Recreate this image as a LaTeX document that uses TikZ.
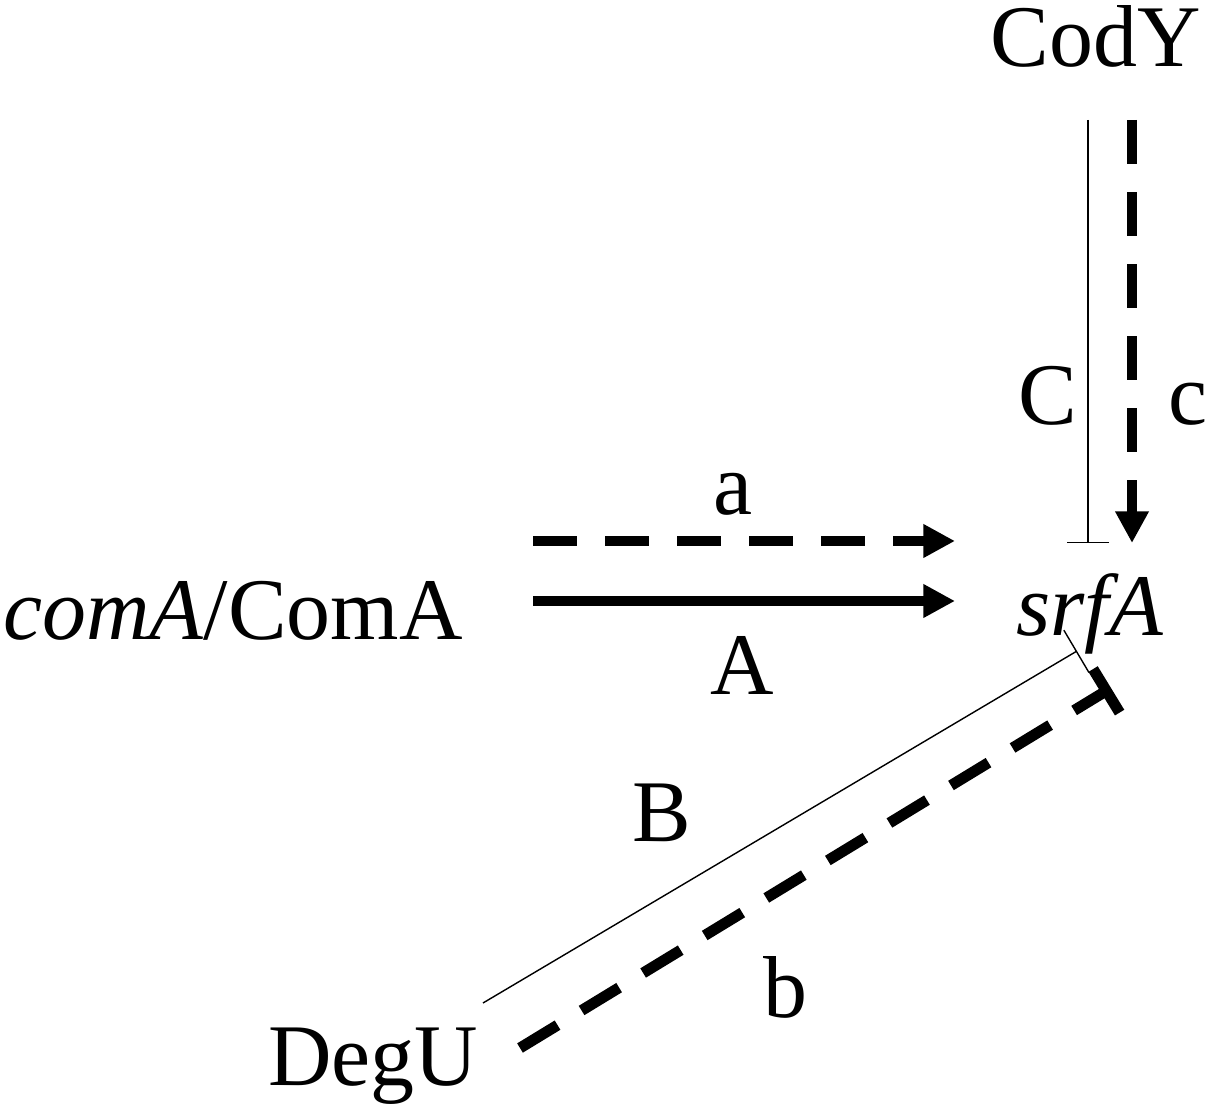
\documentclass[tikz,border=0pt]{standalone}
\usepackage{fontspec}
\setmainfont{Liberation Serif}
\usetikzlibrary{arrows.meta}

\begin{document}
\begin{tikzpicture}[x=0.01cm,y=-0.01cm,
          lbl/.style={anchor=base,inner sep=0pt,font=\fontsize{25}{30}\selectfont},
          actline/.style={line width=3.1pt,-{Triangle[length=9pt,width=9pt]}},
          dashact/.style={actline,dash pattern=on 12.5pt off 8pt},
          inhline/.style={line width=0.4pt,-{Bar[width=12pt]}},
          dashinh/.style={line width=3.1pt,dash pattern=on 12.5pt off 8pt,-{Bar[width=14.5pt]}},
        ]
        \useasboundingbox (0,0) rectangle (1209,1113);
        % GENES / REGULATORS
        \node[lbl](codY) at (1096,67){CodY};
        \node[lbl](comA) at (233,640){\textit{comA}/ComA};
        \node[lbl](srfA) at (1090,636){\textit{srfA}};
        \node[lbl](degU) at (373,1085){DegU};

        % ends of the connectors
        \coordinate (aL) at (533,541);  \coordinate (aR) at (955,541);
        \coordinate (AL) at (533,601);  \coordinate (AR) at (955,601);
        \coordinate (CT) at (1088,120); \coordinate (CB) at (1088,543);
        \coordinate (cT) at (1132,120); \coordinate (cB) at (1132,543);
        \coordinate (BL) at (483,1003); \coordinate (BR) at (1077,651);
        \coordinate (bL) at (520,1048); \coordinate (bR) at (1111,688);

        \draw[dashact](aL)--(aR);
        \draw[actline](AL)--(AR);
        \draw[inhline](CT)--(CB);
        \draw[dashact](cT)--(cB);
        \draw[inhline,-{Bar[width=14pt]}](BL)--(BR);
        \draw[dashinh](bL)--(bR);

        % LABELS
        \node[lbl](la) at (733,515){a};
        \node[lbl](lA) at (742,695){A};
        \node[lbl](lC) at (1048,425){C};
        \node[lbl](lc) at (1188,425){c};
        \node[lbl](lB) at (662,841){B};
        \node[lbl](lb) at (785,1017){b};
      \end{tikzpicture}
\end{document}
